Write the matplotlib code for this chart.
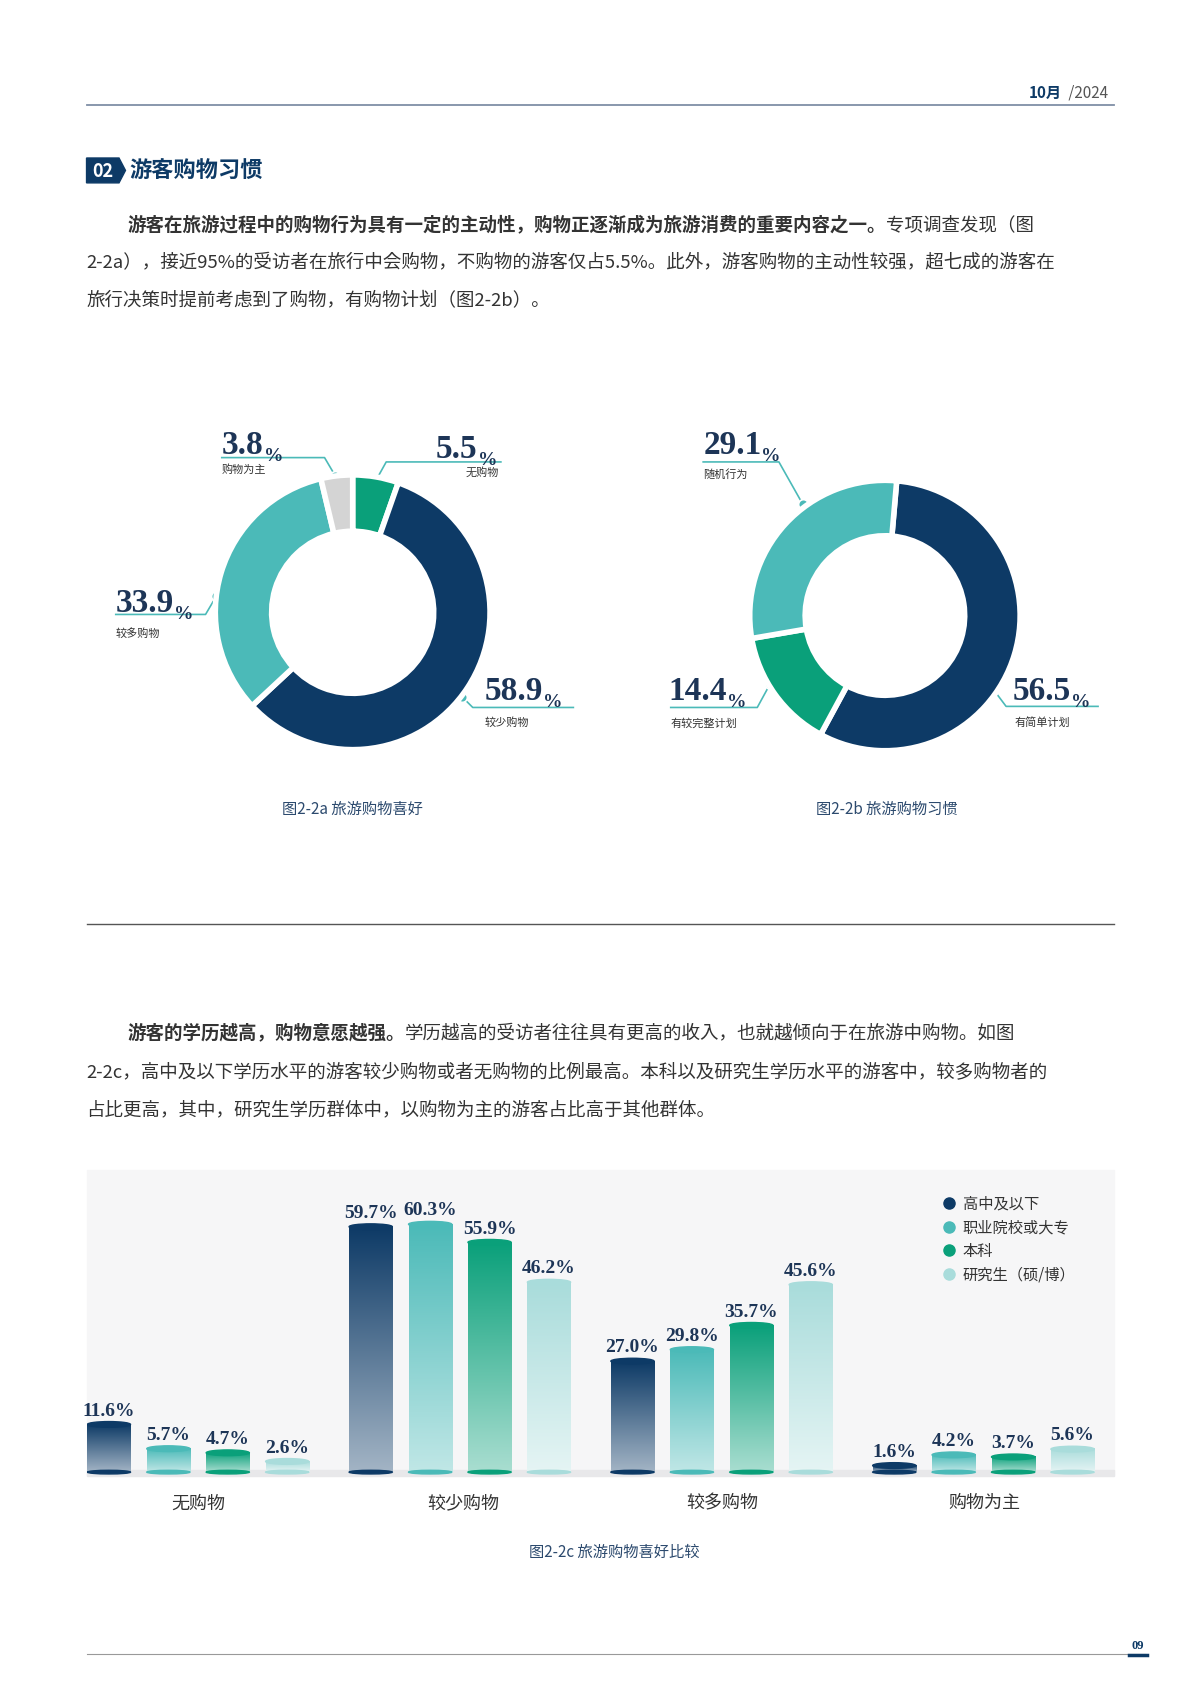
import matplotlib
matplotlib.use("Agg")
import matplotlib.pyplot as plt
import numpy as np
from matplotlib.patches import Ellipse, Rectangle, Polygon
from matplotlib.colors import to_rgb

CJK = ["Noto Sans CJK JP", "Noto Sans CJK SC", "Noto Sans CJK TC", "DejaVu Sans"]
SERIF = "Liberation Serif"
NAVY = "#0d3a66"; TEAL = "#4bbab8"; GREEN = "#0aa07a"; LTEAL = "#a9dcdb"; GRAY = "#d4d4d4"
TXT = "#333333"; NUM = "#1d3557"

# ---- data ----
pie_a_labels = ["无购物", "较少购物", "较多购物", "购物为主"]
pie_a_values = [5.5, 58.9, 33.9, 3.8]
pie_b_labels = ["有简单计划", "有较完整计划", "随机行为"]
pie_b_values = [56.5, 14.4, 29.1]
bar_categories = ["无购物", "较少购物", "较多购物", "购物为主"]
bar_series = ["高中及以下", "职业院校或大专", "本科", "研究生（硕/博）"]
val_high = [11.6, 59.7, 27.0, 1.6]
val_voc = [5.7, 60.3, 29.8, 4.2]
val_bach = [4.7, 55.9, 35.7, 3.7]
val_grad = [2.6, 46.2, 45.6, 5.6]

W, H = 1100.0, 1556.0
fig = plt.figure(figsize=(11.9, 16.83), dpi=100)
fig.patch.set_facecolor("white")

def rect(x0, y0, x1, y1):
    return [x0 / W, 1 - y1 / H, (x1 - x0) / W, (y1 - y0) / H]

page = fig.add_axes([0, 0, 1, 1])
page.set_xlim(0, W); page.set_ylim(H, 0); page.axis("off")

# header
page.text(982, 86, "10月", fontfamily=CJK, fontsize=11, fontweight="bold", color=NAVY, ha="right", va="center")
page.text(984, 86, " /2024", fontfamily=CJK, fontsize=11, color="#555555", ha="left", va="center")
page.plot([80, 1030], [98, 98], color="#7f8fa6", lw=1.3)

# section title
page.add_patch(Polygon([[80, 147], [110, 147], [116, 158.5], [110, 170], [80, 170]], closed=True, color=NAVY))
page.text(95, 158.5, "02", fontfamily=CJK, fontsize=13, fontweight="bold", color="white", ha="center", va="center")
page.text(120, 158, "游客购物习惯", fontfamily=CJK, fontsize=16, fontweight="bold", color=NAVY, ha="left", va="center")

def para(x, y, bold, normal, fs=13.3):
    if bold:
        t = page.text(x, y, bold, fontfamily=CJK, fontsize=fs, fontweight="bold", color=TXT, ha="left", va="center")
        page.annotate(normal, xy=(1, 0.5), xycoords=t, fontfamily=CJK, fontsize=fs, color=TXT, ha="left", va="center")
    else:
        page.text(x, y, normal, fontfamily=CJK, fontsize=fs, color=TXT, ha="left", va="center")

para(118, 208, "游客在旅游过程中的购物行为具有一定的主动性，购物正逐渐成为旅游消费的重要内容之一。", "专项调查发现（图")
para(80, 243, None, "2-2a），接近95%的受访者在旅行中会购物，不购物的游客仅占5.5%。此外，游客购物的主动性较强，超七成的游客在")
para(80, 278, None, "旅行决策时提前考虑到了购物，有购物计划（图2-2b）。")

# donuts
def donut(cx, cy, r, values, colors, start):
    ax = fig.add_axes(rect(cx - r, cy - r, cx + r, cy + r))
    ax.pie(values, colors=colors, startangle=start, counterclock=False, radius=1,
           wedgeprops=dict(width=0.41, edgecolor="white", linewidth=4))
    ax.set_xlim(-1, 1); ax.set_ylim(-1, 1); ax.set_aspect("equal"); ax.axis("off")

donut(326, 567, 127, pie_a_values, [GREEN, NAVY, TEAL, GRAY], 90)
donut(818, 570, 125, pie_b_values, [NAVY, GREEN, TEAL], 85)

def biglabel(x, y, num, lab, lx, ly):
    t = page.text(x, y, num, fontfamily=SERIF, fontsize=24, fontweight="bold", color=NUM, ha="left", va="baseline")
    page.annotate("%", xy=(1, 0), xycoords=t, fontfamily=SERIF, fontsize=14, fontweight="bold", color=NUM, ha="left", va="baseline")
    page.text(lx, ly, lab, fontfamily=CJK, fontsize=8, color=TXT, ha="left", va="center")

def leader(pts):
    xs, ys = zip(*pts)
    page.plot(xs, ys, color=TEAL, lw=1.2)
    page.plot(xs[0], ys[0], "o", ms=7, mfc=TEAL, mec="white", mew=1.2)

leader([(310, 441), (300, 424), (205, 424)])
biglabel(205, 420, f"{pie_a_values[3]}", pie_a_labels[3], 205, 434)
leader([(347, 446), (357, 428), (463, 428)])
biglabel(403, 423, f"{pie_a_values[0]}", pie_a_labels[0], 430, 437)
leader([(200, 552), (190, 569), (107, 569)])
biglabel(107, 566, f"{pie_a_values[2]}", pie_a_labels[2], 107, 586)
leader([(427, 645), (437, 655), (530, 655)])
biglabel(448, 647, f"{pie_a_values[1]}", pie_a_labels[1], 448, 668)

leader([(742, 467), (720, 428), (650, 428)])
biglabel(650, 420, f"{pie_b_values[2]}", pie_b_labels[2], 650, 439)
leader([(712, 633), (700, 655), (620, 655)])
biglabel(618, 647, f"{pie_b_values[1]}", pie_b_labels[1], 620, 669)
leader([(918, 638), (930, 654), (1015, 654)])
biglabel(936, 647, f"{pie_b_values[0]}", pie_b_labels[0], 938, 668)

page.text(326, 748, "图2-2a 旅游购物喜好", fontfamily=CJK, fontsize=11, color="#2c4a6e", ha="center", va="center")
page.text(820, 748, "图2-2b 旅游购物习惯", fontfamily=CJK, fontsize=11, color="#2c4a6e", ha="center", va="center")

page.plot([80, 1030], [855, 855], color="#555555", lw=1)

para(118, 955, "游客的学历越高，购物意愿越强。", "学历越高的受访者往往具有更高的收入，也就越倾向于在旅游中购物。如图")
para(80, 991, None, "2-2c，高中及以下学历水平的游客较少购物或者无购物的比例最高。本科以及研究生学历水平的游客中，较多购物者的")
para(80, 1027, None, "占比更高，其中，研究生学历群体中，以购物为主的游客占比高于其他群体。")

# bar chart
page.add_patch(Rectangle((80, 1083), 950, 282, color="#f6f6f7", zorder=0))
page.add_patch(Rectangle((80, 1360), 950, 6, color="#e8e8ea", zorder=0))
bx = fig.add_axes(rect(80, 1083, 1030, 1365))
bx.patch.set_alpha(0)
bx.axis("off")
series_vals = [val_high, val_voc, val_bach, val_grad]
colors = [NAVY, TEAL, GREEN, LTEAL]
fade = [0.62, 0.65, 0.65, 0.7]
x = np.arange(len(bar_categories))
spacing, bw = 0.227, 0.165
for i, (vals, c) in enumerate(zip(series_vals, colors)):
    top = np.array(to_rgb(c)); white = np.ones(3)
    bot = top + (white - top) * fade[i]
    grad = np.linspace(0, 1, 256)[:, None, None]
    img = top * (1 - grad) + bot * grad
    for j, v in enumerate(vals):
        xc = x[j] + (i - 1.5) * spacing
        bx.imshow(img, extent=[xc - bw / 2, xc + bw / 2, 0, v], aspect="auto", zorder=2, origin="upper")
        bx.add_patch(Ellipse((xc, v), bw, 1.4, color=c, zorder=3))
        bx.add_patch(Ellipse((xc, 0), bw, 0.9, color=c, zorder=3))
        bx.text(xc, v + 1.4, f"{v:.1f}%", fontfamily=SERIF, fontsize=14, fontweight="bold", color=NUM, ha="center", va="bottom", zorder=4)
bx.set_xlim(-0.426, 3.50)
bx.set_ylim(-0.8, 73.4)

cat_x = [183, 428, 668, 910]
for cx_, lab in zip(cat_x, bar_categories):
    page.text(cx_, 1390, lab, fontfamily=CJK, fontsize=13, color=TXT, ha="center", va="center")

for k, (lab, c) in enumerate(zip(bar_series, colors)):
    yy = 1113 + k * 22
    page.plot(877, yy, "o", ms=8, color=c)
    page.text(890, yy, lab, fontfamily=CJK, fontsize=11, color=TXT, ha="left", va="center")

page.text(568, 1435, "图2-2c 旅游购物喜好比较", fontfamily=CJK, fontsize=11, color="#2c4a6e", ha="center", va="center")

# footer
page.plot([80, 1058], [1530, 1530], color="#999999", lw=0.8)
page.text(1052, 1522, "09", fontfamily=SERIF, fontsize=9, fontweight="bold", color=NAVY, ha="center", va="center")
page.plot([1044, 1060], [1531, 1531], color=NAVY, lw=2.5)

fig.savefig("out.png", dpi=100)
